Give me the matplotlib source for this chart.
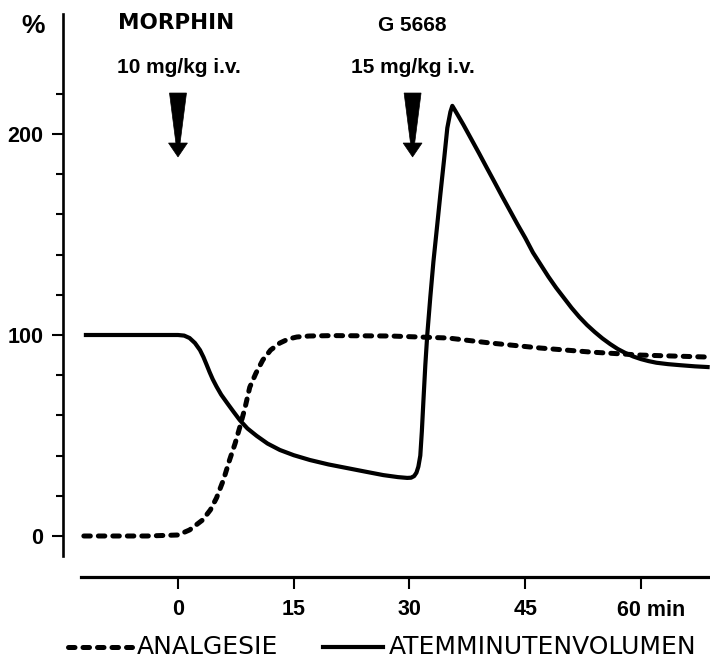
import matplotlib

matplotlib.use("Agg")
import matplotlib.pyplot as plt
import matplotlib.transforms as mtransforms
from matplotlib.lines import Line2D
from matplotlib.patches import Polygon

# time in minutes, values in % of baseline
atem_t = [-12.2, -4, 0, 0.8, 1.5, 2.2, 2.85, 3.3, 3.7, 4.1, 4.5, 5.0, 5.6,
          6.4, 7.2, 8.0, 9.0, 10.2, 11.6, 13.2, 15.0, 17.1, 19.5, 21.9,
          24.3, 26.6, 28.5, 29.7, 30.2, 30.6, 30.9, 31.15, 31.4, 31.6, 31.8,
          32.05, 32.3, 32.7, 33.1, 33.6, 34.0, 34.5, 34.9, 35.3, 35.55,
          35.8, 36.2, 37.0, 38.0, 39.0, 40.0, 41.0, 42.0, 43.0, 44.0, 45.0,
          46.0, 47.0, 48.0, 49.0, 50.0, 51.0, 52.0, 53.0, 54.0, 55.0, 56.0,
          57.0, 58.0, 59.0, 60.0, 61.0, 62.0, 63.5, 65.0, 67.0, 68.9]
atem_v = [100, 100, 100, 99.7, 98.5, 96, 92.5, 89, 85.3, 81.5, 78, 74.3, 70.3,
          66, 61.8, 57.7, 53.5, 49.8, 46, 42.8, 40.2, 37.8, 35.6, 33.8,
          32, 30.3, 29.3, 28.9, 29.0, 29.8, 31.5, 34.5, 40, 52, 67,
          85, 100, 119, 136.5, 155, 170, 188, 203, 211, 214,
          212.4, 209.8, 204.5, 197.5, 190.5, 183.3, 176.2, 169, 162, 155, 148.3,
          141, 135, 129, 123.5, 118.5, 113.5, 109, 105, 101.5, 98.3, 95.5,
          93, 91, 89.3, 88, 87, 86.2, 85.5, 85, 84.4, 84]

analg_t = [-12.2, -4, 0, 1.5, 3.2, 4.2, 5.0, 5.9, 6.7, 7.4, 8.0, 8.7, 9.3, 10.1,
           11.0, 12.0, 13.2, 14.3, 15.4, 17, 20, 27.5, 35, 40.5, 47, 53.5,
           60, 68.9]
analg_v = [0, 0, 0.5, 3, 8, 13, 19, 28, 38, 46, 54, 64, 74, 81,
           87.6, 92.5, 96, 98, 99, 99.5, 99.7, 99.5, 98.5, 96, 93.5, 91.5,
           90, 89]

dose_times = [0, 30.4]
dose_drugs = ["MORPHIN", "G 5668"]
dose_amounts = ["10 mg/kg i.v.", "15 mg/kg i.v."]

x_ticks = [0, 15, 30, 45, 60]
x_labels = ["0", "15", "30", "45", ""]
y_major = [0, 100, 200]
y_minor = [20, 40, 60, 80, 120, 140, 160, 180, 220]

W, H = 710, 661
fig = plt.figure(figsize=(W / 100, H / 100), dpi=100)
ax = fig.add_axes([63 / W, 1 - 577 / H, 647 / W, 563 / H])
ax.set_xlim(-14.9, 68.94)
ax.set_ylim(-20.4, 259.7)

num_font = dict(family="Liberation Sans", weight="bold", size=15.5)

for side in ["top", "right"]:
    ax.spines[side].set_visible(False)
ax.spines["left"].set_linewidth(1.9)
ax.spines["left"].set_bounds(-10, 259.7)
ax.spines["bottom"].set_linewidth(2.3)
ax.spines["bottom"].set_bounds(-12.6, 68.94)

ax.set_xticks(x_ticks)
ax.set_xticklabels(x_labels, fontdict=num_font)
ax.tick_params(axis="x", direction="out", length=8.5, width=1.5, pad=7)
ax.set_yticks(y_major)
ax.set_yticklabels([str(v) for v in y_major], fontdict=num_font)
ax.set_yticks(y_minor, minor=True)
ax.tick_params(axis="y", which="major", direction="out", length=8, width=1.5, pad=6)
ax.tick_params(axis="y", which="minor", direction="out", length=5, width=1.5)

ax.annotate("60 min", xy=(60, 0), xycoords=("data", "axes fraction"),
            xytext=(-17, -24), textcoords="offset points",
            ha="left", va="center", **num_font)

dash_style = dict(color="black", lw=3.6, dashes=(1.3, 1.6),
                  dash_capstyle="round")
ax.plot(analg_t, analg_v, **dash_style)
ax.plot(atem_t, atem_v, color="black", lw=3, solid_joinstyle="round",
        solid_capstyle="butt")

# injection arrows, shape in points relative to the tip
arrow_shape = [(-6.1, 46), (6.1, 46), (1.5, 10), (6.8, 10), (0, 0),
               (-6.8, 10), (-1.5, 10)]
for t, drug, dose in zip(dose_times, dose_drugs, dose_amounts):
    tr = (mtransforms.Affine2D().scale(fig.dpi / 72)
          + mtransforms.ScaledTranslation(t, 188.6, ax.transData))
    ax.add_patch(Polygon(arrow_shape, closed=True, facecolor="black",
                         edgecolor="black", lw=0.5, transform=tr,
                         clip_on=False))
    if drug == "MORPHIN":
        ax.text(t - 0.3, 255, drug, ha="center", va="center",
                family="DejaVu Sans", weight="bold", size=15.5)
    else:
        ax.text(t, 254, drug, ha="center", va="center",
                family="Liberation Sans", weight="bold", size=15)
    ax.text(t + 0.1, 233, dose, ha="center", va="center",
            family="Liberation Sans", weight="bold", size=15)

fig.text(33 / W, 1 - 26 / H, "%", ha="center", va="center",
         family="Liberation Sans", weight="bold", size=19)

# legend
leg_y = 1 - 647 / H
fig.add_artist(Line2D([68 / W, 132 / W], [leg_y, leg_y], **dash_style))
fig.text(137 / W, leg_y, "ANALGESIE", ha="left", va="center",
         family="DejaVu Sans", size=18)
fig.add_artist(Line2D([323 / W, 383 / W], [leg_y, leg_y], color="black", lw=3))
fig.text(389 / W, leg_y, "ATEMMINUTENVOLUMEN", ha="left", va="center",
         family="DejaVu Sans", size=18)

fig.savefig("out.png", dpi=100)
